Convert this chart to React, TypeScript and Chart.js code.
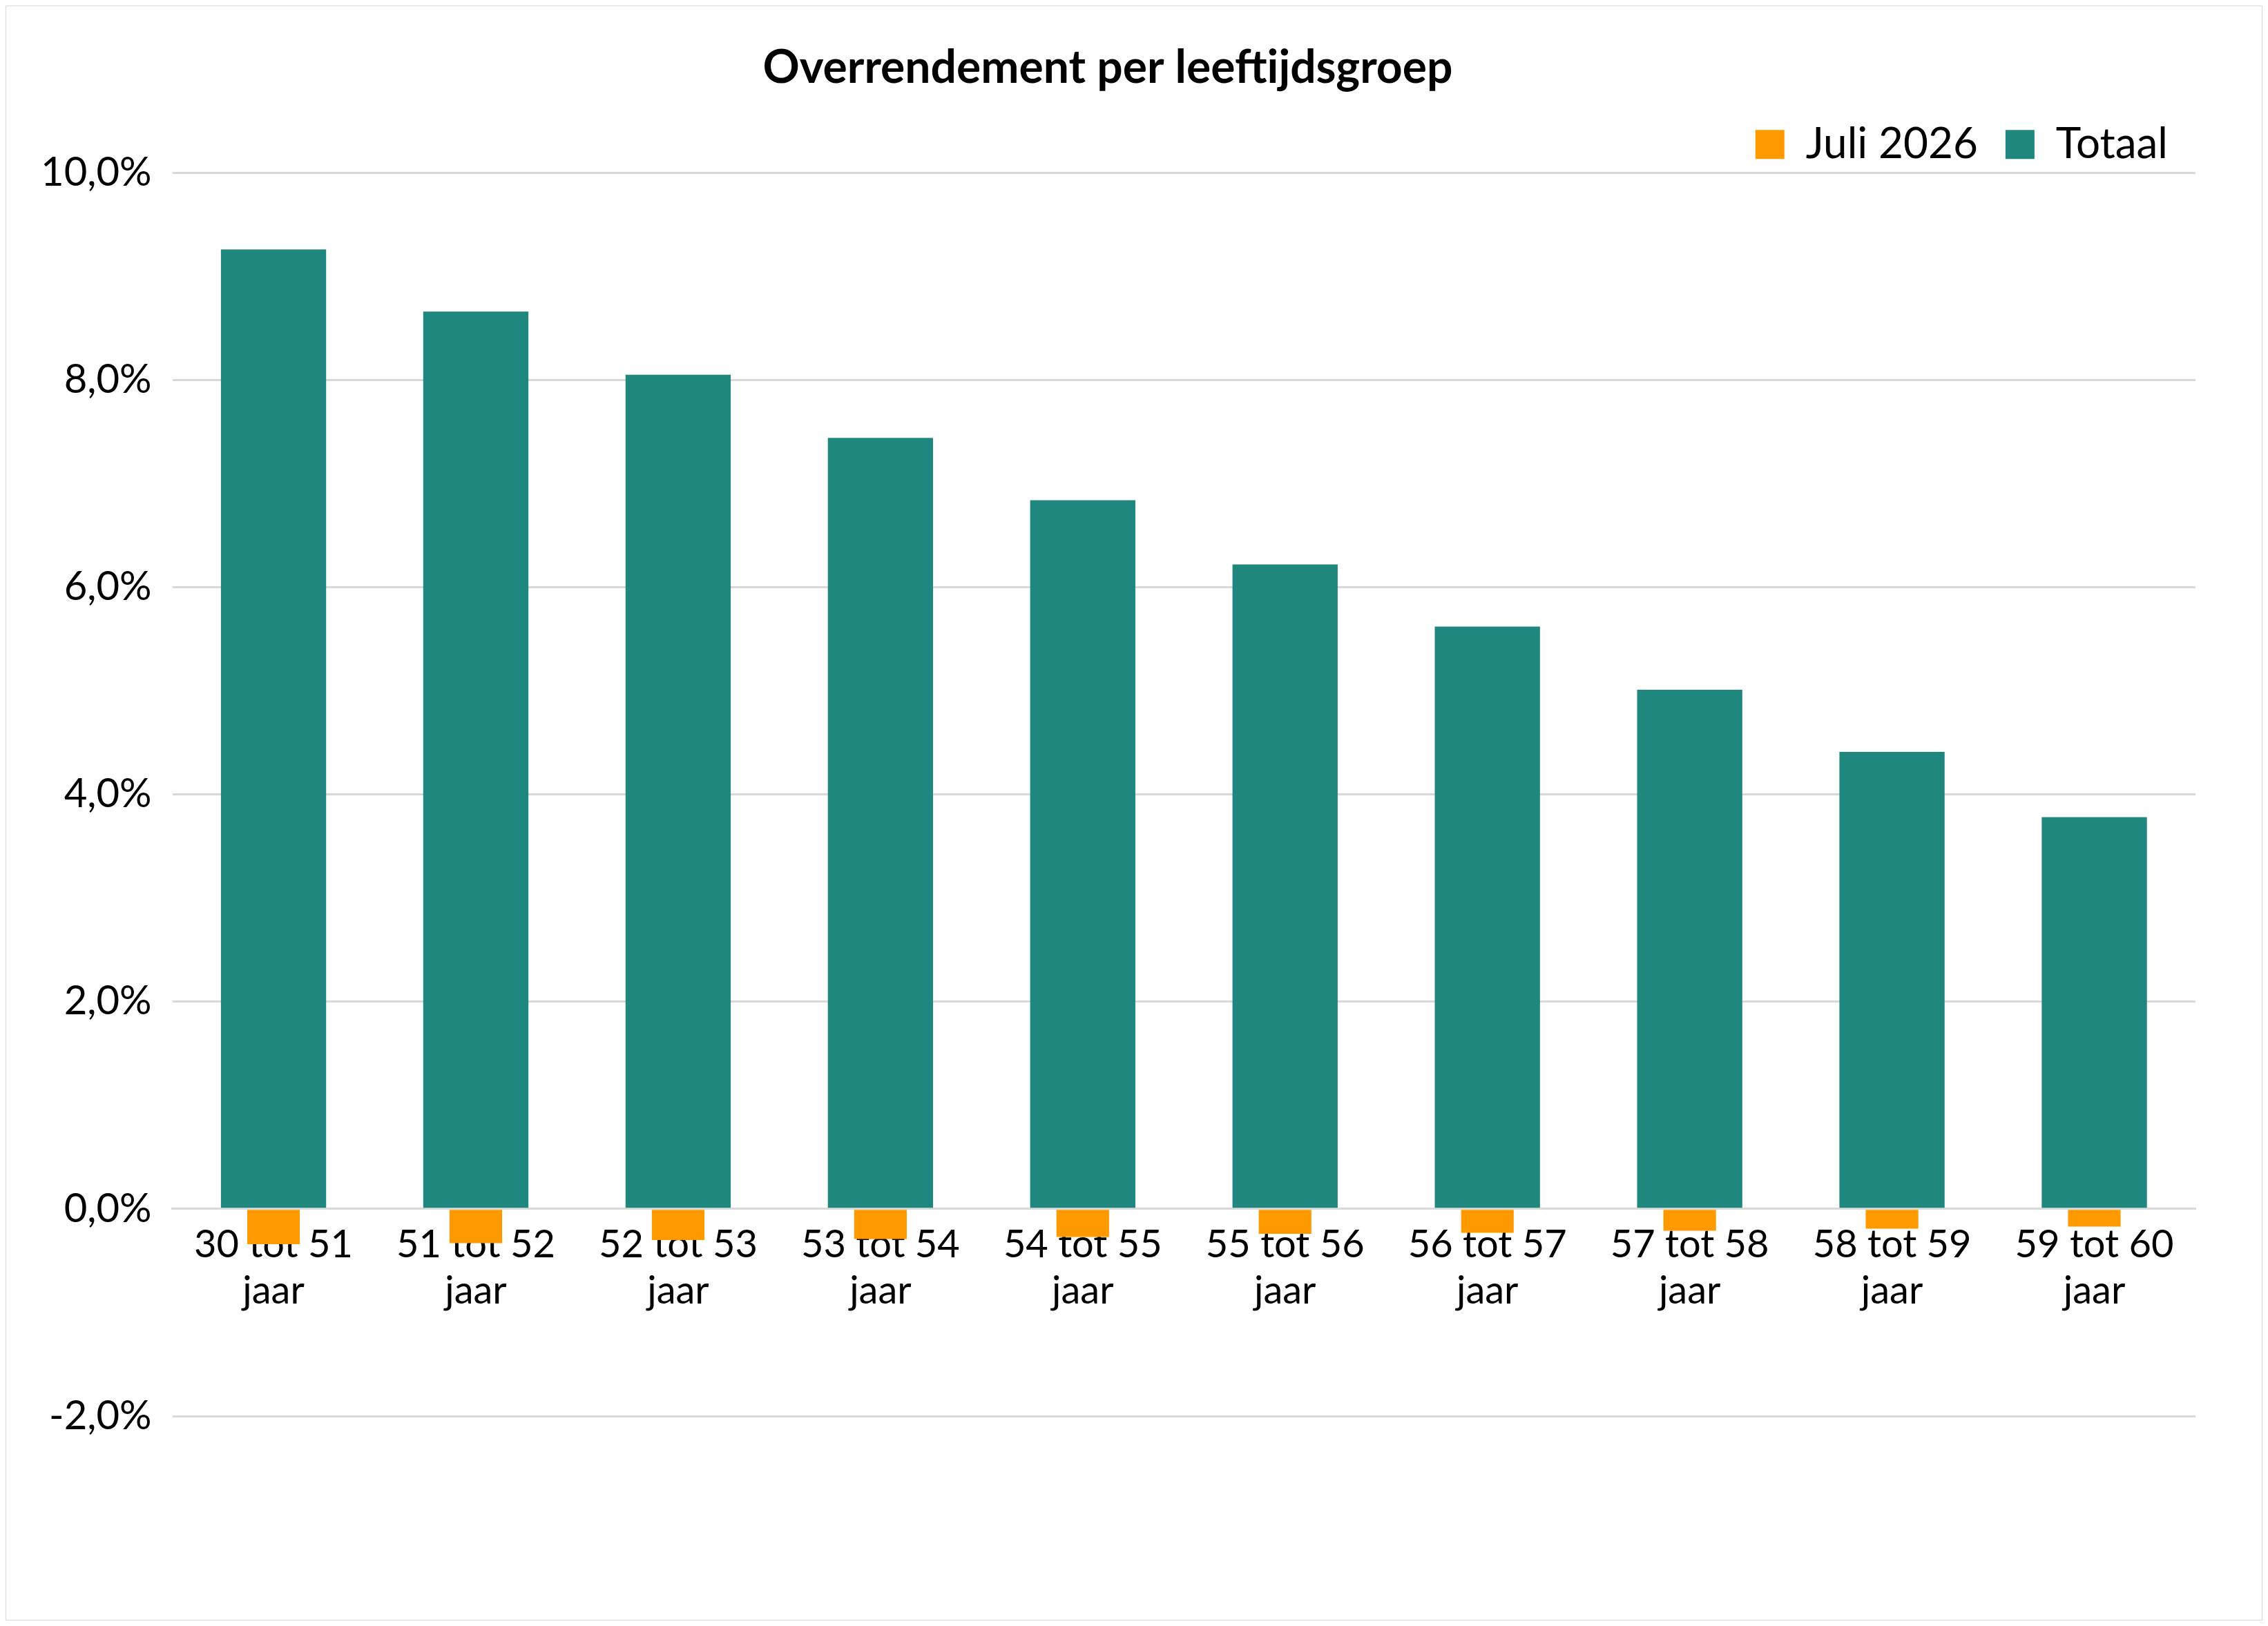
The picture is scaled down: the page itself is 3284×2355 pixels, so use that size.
import React, { useEffect, useRef } from "react";
import { Chart, registerables } from "chart.js";
Chart.register(...registerables);

const categories = ["30 tot 51", "51 tot 52", "52 tot 53", "53 tot 54", "54 tot 55", "55 tot 56", "56 tot 57", "57 tot 58", "58 tot 59", "59 tot 60"];
const totaal = [9.26, 8.66, 8.05, 7.44, 6.84, 6.22, 5.62, 5.01, 4.41, 3.78];
const juli2026 = [-0.34, -0.33, -0.3, -0.29, -0.27, -0.24, -0.23, -0.21, -0.19, -0.17];

export default function App() {
  const ref = useRef<HTMLCanvasElement>(null);
  useEffect(() => {
    const font = "Lato, 'Open Sans', sans-serif";
    const chart = new Chart(ref.current!, {
      type: "bar",
      data: {
        labels: categories.map((c) => [c, "jaar"]),
        datasets: [
          { label: "Totaal", data: totaal, backgroundColor: "#1F877E", barPercentage: 0.52, categoryPercentage: 1, order: 2 },
          { label: "Juli 2026", data: juli2026, backgroundColor: "#FF9900", barPercentage: 0.26, categoryPercentage: 1, order: 1 },
        ],
      },
      options: {
        animation: false,
        responsive: false,
        layout: { padding: { left: 20, right: 96, top: 10, bottom: 295 } },
        plugins: {
          tooltip: { enabled: false },
          title: { display: true, text: "Overrendement per leeftijdsgroep", color: "#000", font: { family: font, size: 66, weight: "bold" }, padding: { top: 40, bottom: 0 } },
          legend: {
            position: "top", align: "end",
            labels: { color: "#000", font: { family: font, size: 62 }, boxWidth: 42, boxHeight: 42, padding: 40 },
          },
        },
        scales: {
          x: {
            stacked: true,
            position: { y: 0 } as any,
            grid: { display: false },
            border: { color: "#d9d9d9", width: 3 },
            ticks: { color: "#000", font: { family: font, size: 56 }, padding: 10, maxRotation: 0 },
          },
          y: {
            min: -2, max: 10,
            ticks: { stepSize: 2, color: "#000", font: { family: font, size: 58 }, padding: 30,
              callback: (v: any) => Number(v).toFixed(1).replace(".", ",") + "%" },
            grid: { color: "#d9d9d9", lineWidth: 3, drawTicks: false },
            border: { display: false },
          },
        },
      },
    });
    return () => chart.destroy();
  }, []);
  return (
    <div style={{ width: 3266, height: 2337, border: "1px solid #d9d9d9" }}>
      <canvas ref={ref} width={3266} height={2337} />
    </div>
  );
}
